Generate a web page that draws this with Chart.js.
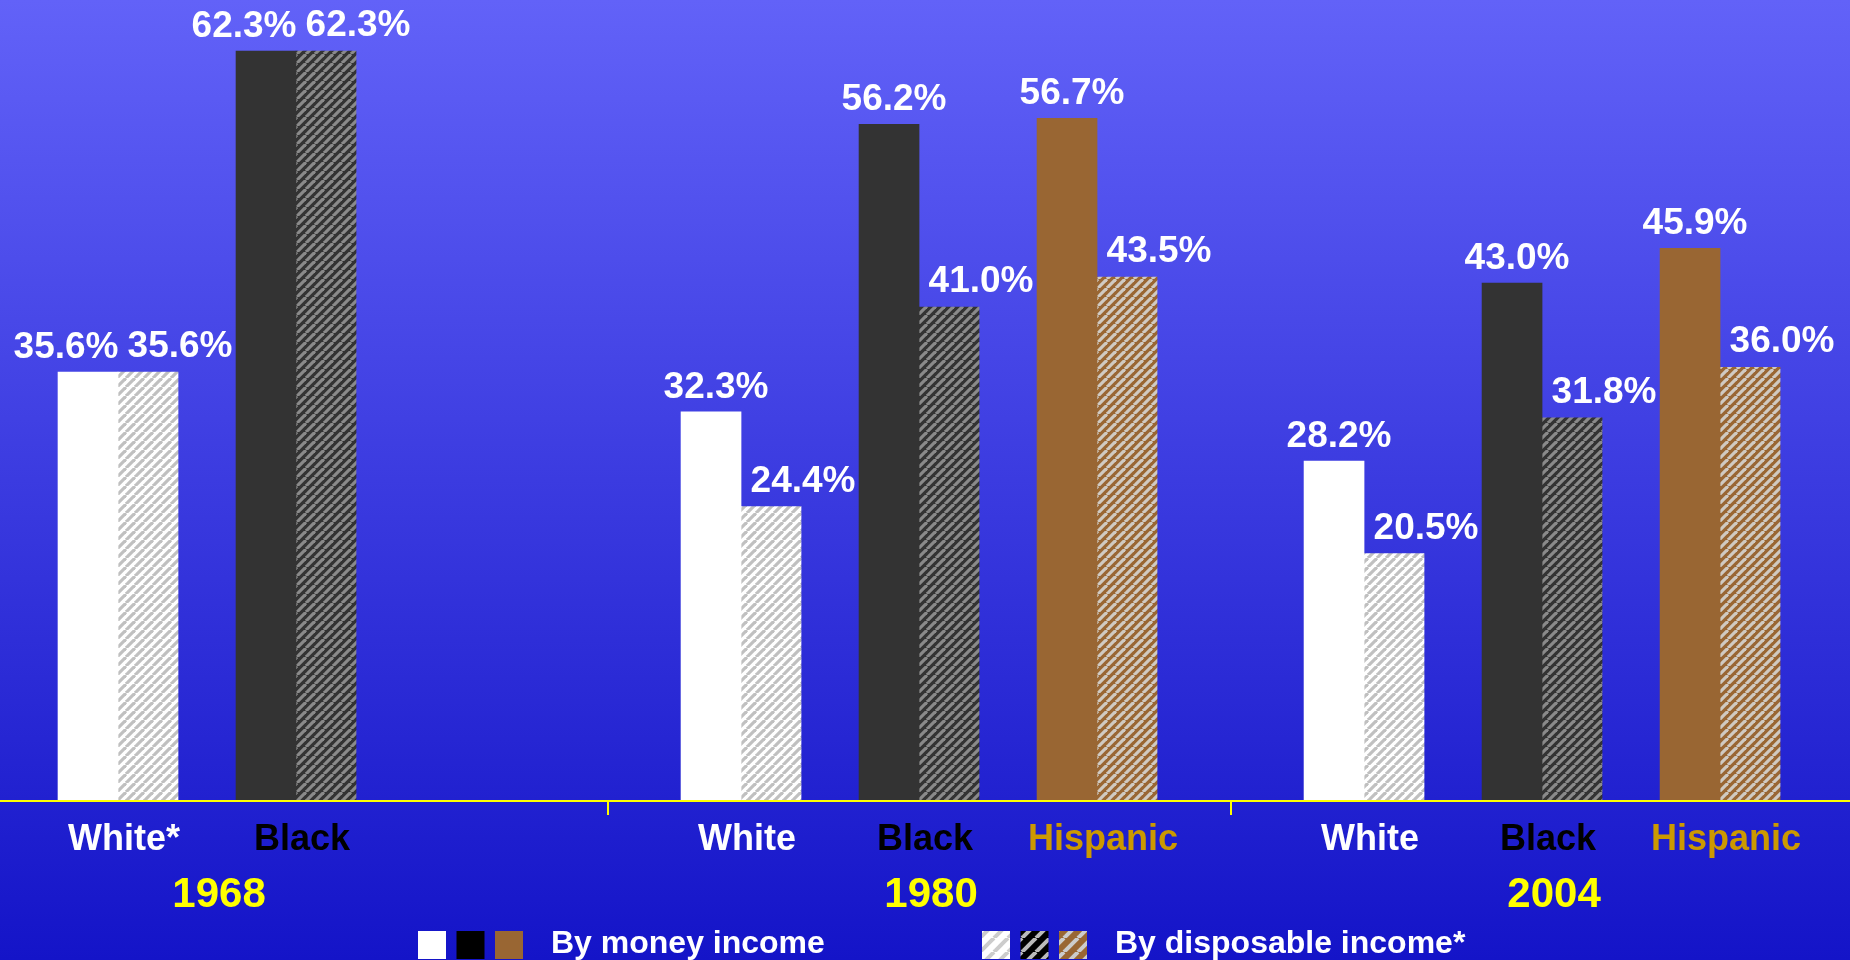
<!DOCTYPE html>
<html>
<head>
<meta charset="utf-8">
<title>Poverty rates by money and disposable income</title>
<script src="https://cdn.jsdelivr.net/npm/chart.js@4.4.1/dist/chart.umd.min.js"></script>
<style>
  html, body { margin: 0; padding: 0; background: #1414c8; overflow: hidden; }
  #wrap { width: 1850px; height: 960px; }
</style>
</head>
<body>
<div id="wrap"><canvas id="incomeChart" width="1850" height="960"></canvas></div>
<script>
// values per bar pair, in order of appearance
const years = ['1968', '1980', '2004'];
const categories = ['White*', 'Black', 'White', 'Black', 'Hispanic', 'White', 'Black', 'Hispanic'];
const categoryYear = [0, 0, 1, 1, 1, 2, 2, 2];
const moneyIncome = [35.6, 62.3, 32.3, 56.2, 56.7, 28.2, 43.0, 45.9];
const disposableIncome = [35.6, 62.3, 24.4, 41.0, 43.5, 20.5, 31.8, 36.0];
const legendLabels = ['By money income', 'By disposable income*'];

const raceOrder = ['White', 'Black', 'Hispanic'];
const raceFill = { White: '#ffffff', Black: '#333333', Hispanic: '#996633' };
const raceStripe = { White: '#c0c0c0', Black: '#8a8a8a', Hispanic: '#d0cac2' };
const raceText = { White: '#ffffff', Black: '#000000', Hispanic: '#cc9900' };
const legendFill = { White: '#ffffff', Black: '#000000', Hispanic: '#996633' };
const legendStripe = { White: '#cccccc', Black: '#bbbbbb', Hispanic: '#cccccc' };

const FONT = "'Liberation Sans', Arial, sans-serif";

function raceOf(label) {
    return label.replace('*', '');
}

// each year gets three slots, with half a slot between years
const xPos = categories.map((c, i) => categoryYear[i] * 3.5 + raceOrder.indexOf(raceOf(c)));

function makeStripes(bg, fg, size, width) {
    const c = document.createElement('canvas');
    c.width = size;
    c.height = size;
    const g = c.getContext('2d');
    g.fillStyle = bg;
    g.fillRect(0, 0, size, size);
    g.strokeStyle = fg;
    g.lineWidth = width;
    for (let k = -1; k <= 1; k++) {
        g.beginPath();
        g.moveTo(k * size, size);
        g.lineTo(k * size + size, 0);
        g.stroke();
    }
    return g.createPattern(c, 'repeat');
}

const canvas = document.getElementById('incomeChart');
const ctx = canvas.getContext('2d');

const barPatterns = {};
const legendPatterns = {};
raceOrder.forEach(r => {
    barPatterns[r] = makeStripes(raceFill[r], raceStripe[r], 9, 3.2);
    legendPatterns[r] = makeStripes(legendFill[r], legendStripe[r], 14, 4);
});

const solidColors = categories.map(c => raceFill[raceOf(c)]);
const hatchColors = categories.map(c => barPatterns[raceOf(c)]);

const decorPlugin = {
    id: 'decor',
    beforeDraw(chart) {
        const g = chart.ctx;
        const grad = g.createLinearGradient(0, 0, 0, chart.height);
        grad.addColorStop(0, '#6262f8');
        grad.addColorStop(1, '#1414c8');
        g.save();
        g.fillStyle = grad;
        g.fillRect(0, 0, chart.width, chart.height);
        g.restore();
    },
    afterDatasetsDraw(chart) {
        const g = chart.ctx;
        const xs = chart.scales.x;
        const ys = chart.scales.y;
        const base = ys.getPixelForValue(0);
        g.save();

        // yellow baseline with dividers between years
        g.strokeStyle = '#ffff00';
        g.lineWidth = 2;
        g.beginPath();
        g.moveTo(0, base + 1);
        g.lineTo(chart.width, base + 1);
        for (let y = 1; y < years.length; y++) {
            const px = Math.round(xs.getPixelForValue(y * 3.5 - 0.75));
            g.moveTo(px, base);
            g.lineTo(px, base + 15);
        }
        g.stroke();

        // value labels
        g.font = 'bold 37px ' + FONT;
        g.fillStyle = '#ffffff';
        g.textAlign = 'center';
        g.textBaseline = 'alphabetic';
        const moneyMeta = chart.getDatasetMeta(0);
        const dispMeta = chart.getDatasetMeta(1);
        moneyMeta.data.forEach((bar, i) => {
            const same = moneyIncome[i] === disposableIncome[i];
            g.fillText(moneyIncome[i].toFixed(1) + '%', bar.x + (same ? -22 : 5), bar.y - 14);
        });
        dispMeta.data.forEach((bar, i) => {
            g.fillText(disposableIncome[i].toFixed(1) + '%', bar.x + 32, bar.y - 15);
        });

        // category labels
        g.font = 'bold 36px ' + FONT;
        categories.forEach((c, i) => {
            g.fillStyle = raceText[raceOf(c)];
            g.fillText(c, xs.getPixelForValue(xPos[i]) + 6, base + 50);
        });

        // year labels
        g.font = 'bold 42px ' + FONT;
        g.fillStyle = '#ffff00';
        years.forEach((yr, y) => {
            const pos = xPos.filter((p, i) => categoryYear[i] === y);
            const mid = pos.reduce((a, b) => a + b, 0) / pos.length;
            g.fillText(yr, xs.getPixelForValue(mid) + 12, base + 107);
        });

        // legend
        const boxTop = 931;
        const box = 28;
        const drawItem = (left, fills, text) => {
            raceOrder.forEach((r, k) => {
                const bx = left + k * 38.5;
                g.fillStyle = fills[r];
                g.fillRect(bx, boxTop, box, box);
            });
            g.font = 'bold 32px ' + FONT;
            g.fillStyle = '#ffffff';
            g.textAlign = 'left';
            g.fillText(text, left + 133, 953);
        };
        drawItem(418, legendFill, legendLabels[0]);
        drawItem(982, legendPatterns, legendLabels[1]);

        g.restore();
    }
};

new Chart(ctx, {
    type: 'bar',
    data: {
        datasets: [{
            label: legendLabels[0],
            data: xPos.map((x, i) => ({ x: x, y: moneyIncome[i] })),
            backgroundColor: solidColors,
            borderWidth: 0,
            barThickness: 60
        }, {
            label: legendLabels[1],
            data: xPos.map((x, i) => ({ x: x, y: disposableIncome[i] })),
            backgroundColor: hatchColors,
            borderWidth: 0,
            barThickness: 60
        }]
    },
    options: {
        responsive: false,
        animation: false,
        layout: { padding: { top: 0, left: 0, right: 0, bottom: 160 } },
        scales: {
            x: {
                type: 'linear',
                min: -0.663,
                max: 9.73,
                bounds: 'data',
                offset: false,
                display: false
            },
            y: {
                min: 0,
                max: 66.55,
                display: false
            }
        },
        plugins: {
            legend: { display: false },
            tooltip: { enabled: false }
        }
    },
    plugins: [decorPlugin]
});
</script>
</body>
</html>
